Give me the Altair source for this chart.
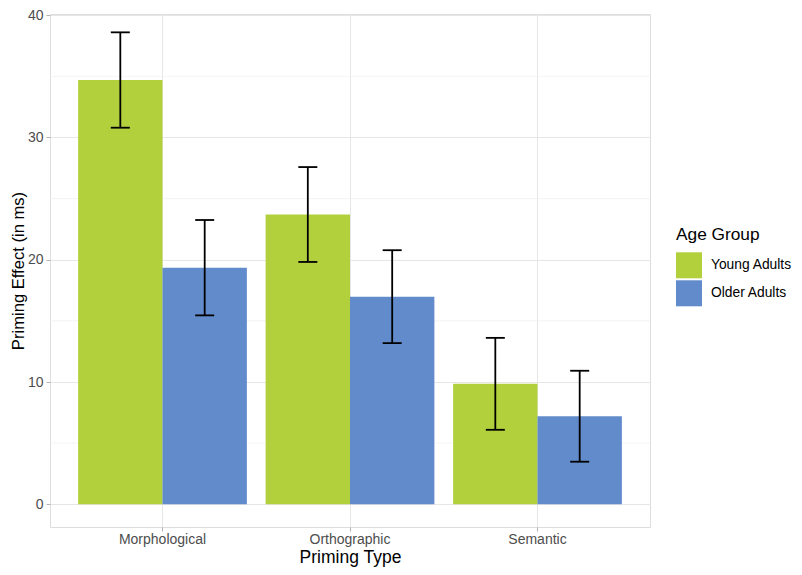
import altair as alt
import pandas as pd

priming_types = ["Morphological", "Orthographic", "Semantic"]
age_groups = ["Young Adults", "Older Adults"]
young_means = [34.7, 23.7, 9.85]
young_se = [3.9, 3.88, 3.76]
older_means = [19.35, 16.98, 7.2]
older_se = [3.9, 3.8, 3.72]
minor_grid = [5, 15, 25, 35]
major_ticks = [0, 10, 20, 30, 40]
colors = ["#b2cf3c", "#628bcb"]

rows = []
for i, t in enumerate(priming_types):
    rows.append({"type": t, "group": age_groups[0], "mean": young_means[i],
                 "lo": young_means[i] - young_se[i], "hi": young_means[i] + young_se[i]})
    rows.append({"type": t, "group": age_groups[1], "mean": older_means[i],
                 "lo": older_means[i] - older_se[i], "hi": older_means[i] + older_se[i]})
df = pd.DataFrame(rows)

FONT = "Liberation Sans"
yscale = alt.Scale(domain=[-1.86, 40.1], nice=False, zero=False)

base = alt.Chart(df).encode(
    x=alt.X("type:N", sort=priming_types,
            scale=alt.Scale(paddingInner=0.1, paddingOuter=0.15),
            axis=alt.Axis(title="Priming Type", labelAngle=0, bandPosition=0.5,
                          grid=True, gridColor="#E6E6E6", gridWidth=1,
                          domain=False, tickColor="#B3B3B3", tickSize=4,
                          labelColor="#4D4D4D", labelFontSize=14, labelPadding=1,
                          labelFont=FONT, titleFont=FONT, titleFontSize=17.5,
                          titleFontWeight="normal", titleColor="black", titlePadding=2)),
    xOffset=alt.XOffset("group:N", sort=age_groups,
                        scale=alt.Scale(paddingInner=0, paddingOuter=0)),
)

minor = alt.Chart(pd.DataFrame({"v": minor_grid})).mark_rule(
    color="#EFEFEF", strokeWidth=0.7).encode(y=alt.Y("v:Q", scale=yscale))

bars = base.mark_bar().encode(
    y=alt.Y("mean:Q", scale=yscale,
            axis=alt.Axis(title="Priming Effect (in ms)", values=major_ticks,
                          grid=True, gridColor="#E6E6E6", gridWidth=1,
                          domain=False, tickColor="#B3B3B3", tickSize=4,
                          labelColor="#4D4D4D", labelFontSize=14, labelPadding=3,
                          labelFont=FONT, titleFont=FONT, titleFontSize=16.6,
                          titleFontWeight="normal", titleColor="black", titlePadding=1)),
    color=alt.Color("group:N", sort=age_groups,
                    scale=alt.Scale(domain=age_groups, range=colors),
                    legend=alt.Legend(title="Age Group", orient="none",
                                      legendX=626, legendY=212, padding=0,
                                      symbolType="square", symbolSize=676,
                                      symbolStrokeWidth=0, symbolOpacity=1,
                                      rowPadding=2, labelOffset=9,
                                      labelFont=FONT, labelFontSize=13.8, labelColor="black",
                                      titleFont=FONT, titleFontSize=17.3,
                                      titleFontWeight="normal", titleColor="black",
                                      titlePadding=9)),
)

rules = base.mark_rule(color="black", strokeWidth=1.8).encode(
    y=alt.Y("lo:Q", scale=yscale), y2="hi:Q")
cap_lo = base.mark_tick(color="black", size=19, thickness=1.8, opacity=1).encode(
    y=alt.Y("lo:Q", scale=yscale))
cap_hi = base.mark_tick(color="black", size=19, thickness=1.8, opacity=1).encode(
    y=alt.Y("hi:Q", scale=yscale))

chart = alt.layer(minor, bars, rules, cap_lo, cap_hi).properties(
    width=600, height=513,
    autosize=alt.AutoSizeParams(type="none"),
    padding={"left": 42, "top": 6, "right": 144, "bottom": 40},
).configure_view(stroke="#B3B3B3", strokeWidth=1).configure(font=FONT)

chart.save("out.html", embed_options={"renderer": "svg", "actions": False})
